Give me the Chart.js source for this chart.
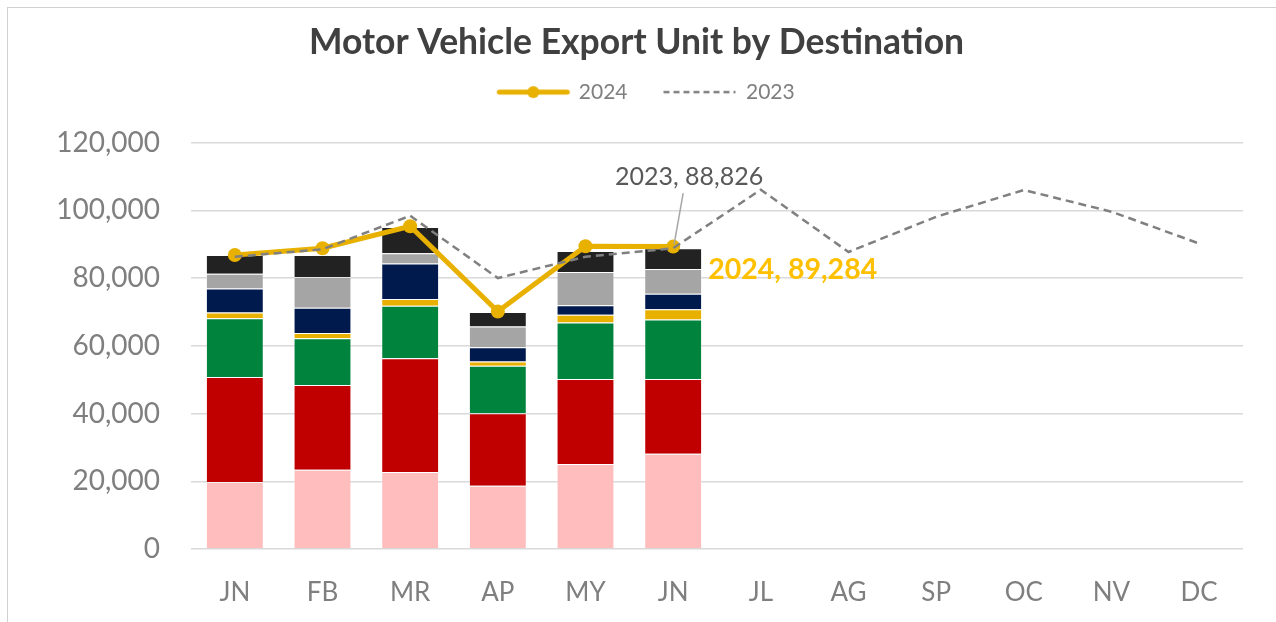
<!DOCTYPE html>
<html>
<head>
<meta charset="utf-8">
<script src="https://cdn.jsdelivr.net/npm/chart.js@4.4.1/dist/chart.umd.min.js"></script>
<style>
  html, body { margin: 0; padding: 0; background: #fff; overflow: hidden; }
  #frame { position: absolute; left: 7px; top: 7px; width: 1300px; height: 640px; border: 1px solid #d0d0d0; box-sizing: border-box; }
  #wrap { position: absolute; left: 0; top: 0; width: 1276px; height: 622px; }
</style>
</head>
<body>
<div id="frame"></div>
<div id="wrap"><canvas id="export-chart" width="1276" height="622"></canvas></div>
<script>
var months = ['JN','FB','MR','AP','MY','JN','JL','AG','SP','OC','NV','DC'];
var yTicks = [0, 20000, 40000, 60000, 80000, 100000, 120000];

// stacked destinations (bottom to top), units
var dest1 = [19800, 23400, 22700, 18700, 25100, 28100];
var dest2 = [31000, 25000, 33600, 21400, 25100, 22100];
var dest3 = [17300, 13800, 15500, 14000, 16700, 17600];
var dest4 = [1700, 1600, 2000, 1300, 2300, 3000];
var dest5 = [7100, 7400, 10500, 4200, 2800, 4600];
var dest6 = [4400, 9100, 3000, 6100, 9800, 7300];
var dest7 = [5500, 6500, 7800, 4300, 6200, 6100];

// totals
var total2024 = [86800, 88800, 95300, 70100, 89400, 89284, null, null, null, null, null, null];
var total2023 = [86300, 88500, 98400, 80000, 86300, 88826, 106100, 87700, 98100, 106000, 99600, 90200];

var font = 'Lato, "Open Sans", sans-serif';

function fmt(v) { return v.toLocaleString('en-US'); }

// legend symbols: line sits at the right end of the image, blank room on the left
var EXTRA = 16;
function legendLine(color, dashed, dot) {
  var c = document.createElement('canvas');
  c.width = 74 + EXTRA + 8; c.height = 14;
  var g = c.getContext('2d');
  var x0 = c.width - 76;
  g.strokeStyle = color;
  g.lineWidth = dashed ? 2.5 : 5;
  g.lineCap = dashed ? 'butt' : 'round';
  if (dashed) g.setLineDash([6, 4]);
  g.beginPath(); g.moveTo(x0 + (dashed ? 0 : 3), 7); g.lineTo(x0 + (dashed ? 72 : 71), 7); g.stroke();
  if (dot) {
    g.fillStyle = color;
    g.beginPath(); g.arc(x0 + 37, 7, 6, 0, Math.PI * 2); g.fill();
  }
  return c;
}
var legendIcons = [legendLine('#E8B100', false, true), legendLine('#808080', true, false)];

function bar(label, data, color) {
  return {
    type: 'bar', label: label, data: data,
    backgroundColor: color, borderColor: 'rgba(255,255,255,0.3)', borderWidth: 1,
    stack: 'dest', order: 2
  };
}

var lastLabels = {
  id: 'lastLabels',
  afterDatasetsDraw: function (chart) {
    var ctx = chart.ctx;
    var p23 = chart.getDatasetMeta(1).data[5];
    var p24 = chart.getDatasetMeta(0).data[5];
    ctx.save();
    ctx.textBaseline = 'middle';
    if (p23) {
      ctx.strokeStyle = '#a6a6a6';
      ctx.lineWidth = 1.5;
      ctx.beginPath(); ctx.moveTo(p23.x + 10, p23.y - 55); ctx.lineTo(p23.x + 1, p23.y - 4); ctx.stroke();
      ctx.font = '25px ' + font;
      ctx.fillStyle = '#595959';
      ctx.textAlign = 'center';
      ctx.fillText('2023, ' + fmt(total2023[5]), p23.x + 16, p23.y - 71);
    }
    if (p24) {
      ctx.font = 'bold 28.5px ' + font;
      ctx.fillStyle = '#FFC000';
      ctx.textAlign = 'left';
      ctx.fillText('2024, ' + fmt(total2024[5]), p24.x + 35, p24.y + 23);
    }
    ctx.restore();
  }
};

var ctx = document.getElementById('export-chart').getContext('2d');
new Chart(ctx, {
  type: 'bar',
  data: {
    labels: months,
    datasets: [
      {
        type: 'line', label: '2024', data: total2024, stack: 'y2024',
        borderColor: '#E8B100', backgroundColor: '#E8B100', borderWidth: 5,
        pointRadius: 7, pointHoverRadius: 7, pointBackgroundColor: '#E8B100', pointBorderWidth: 0,
        order: 1
      },
      {
        type: 'line', label: '2023', data: total2023, stack: 'y2023',
        borderColor: '#808080', borderWidth: 2.5, borderDash: [8, 5], pointRadius: 0,
        order: 0
      },
      bar('d1', dest1, '#FFBDBD'),
      bar('d2', dest2, '#C00000'),
      bar('d3', dest3, '#00843D'),
      bar('d4', dest4, '#E8B100'),
      bar('d5', dest5, '#001A4D'),
      bar('d6', dest6, '#A5A5A5'),
      bar('d7', dest7, '#222222')
    ]
  },
  options: {
    responsive: false,
    animation: false,
    layout: { padding: { left: 30, right: 33, top: 0, bottom: 0 } },
    datasets: { bar: { barPercentage: 0.66, categoryPercentage: 1 } },
    plugins: {
      title: {
        display: true, text: 'Motor Vehicle Export Unit by Destination',
        color: '#404040', font: { family: font, size: 35.5, weight: 'bold' },
        padding: { top: 21, bottom: 0 }
      },
      subtitle: {
        // blank spacer between legend and plot
        display: true, text: ' ', weight: 500,
        font: { size: 10 }, padding: { top: 18, bottom: 0 }
      },
      legend: {
        position: 'top',
        labels: {
          usePointStyle: true, pointStyleWidth: 74 + EXTRA, padding: 18,
          color: '#7f7f7f', font: { family: font, size: 21 },
          generateLabels: function (chart) {
            var items = Chart.defaults.plugins.legend.labels.generateLabels(chart);
            items = items.filter(function (it) { return it.datasetIndex < 2; });
            items.sort(function (a, b) { return a.datasetIndex - b.datasetIndex; });
            items.forEach(function (it) { it.pointStyle = legendIcons[it.datasetIndex]; });
            return items;
          }
        }
      },
      tooltip: { enabled: false }
    },
    scales: {
      x: {
        stacked: true,
        grid: { display: false },
        border: { display: false },
        ticks: { color: '#7f7f7f', font: { family: font, size: 26 }, padding: 20 },
        afterFit: function (s) { s.height = 73; }
      },
      y: {
        stacked: true,
        min: 0, max: 120000,
        afterBuildTicks: function (s) { s.ticks = yTicks.map(function (v) { return { value: v }; }); },
        grid: { color: '#d9d9d9', lineWidth: 1.5, drawTicks: false },
        border: { display: false },
        ticks: { color: '#7f7f7f', font: { family: font, size: 28 }, padding: 31,
                 callback: function (v) { return fmt(v); } },
        afterFit: function (s) { s.width = 191 - 30; }
      }
    }
  },
  plugins: [lastLabels]
});
</script>
</body>
</html>
